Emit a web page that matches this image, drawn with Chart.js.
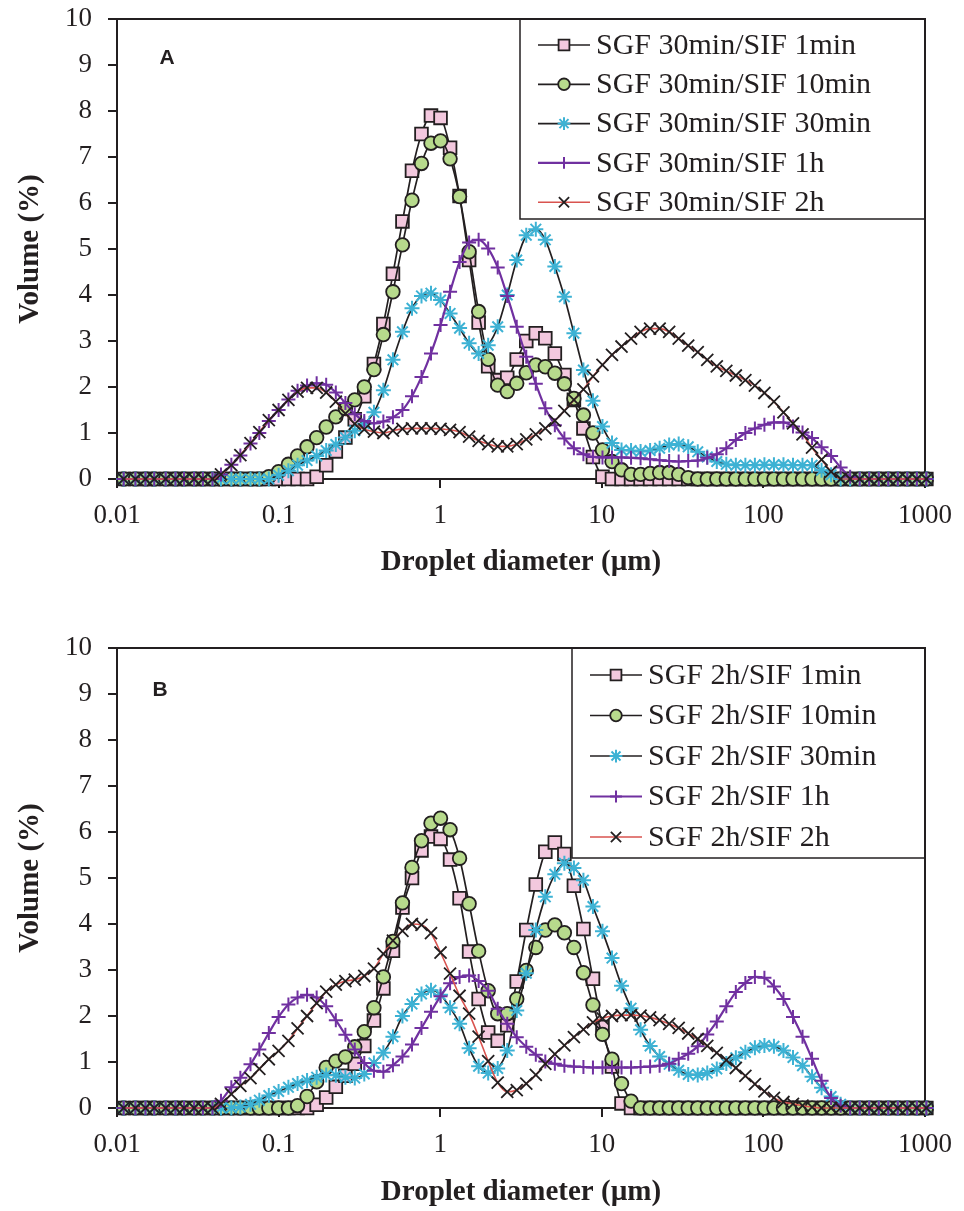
<!DOCTYPE html>
<html>
<head>
<meta charset="utf-8">
<script src="https://cdn.jsdelivr.net/npm/chart.js@4.4.0/dist/chart.umd.min.js"></script>
<style>
  body{margin:0;background:#fff;width:964px;height:1211px;overflow:hidden;position:relative}
  .panel{position:absolute;left:0;width:964px}
  #wrapA{top:-20px;height:620px}
  #wrapB{top:600px;height:611px}
</style>
</head>
<body>
<div class="panel" id="wrapA"><canvas id="chartA" width="964" height="620"></canvas></div>
<div class="panel" id="wrapB"><canvas id="chartB" width="964" height="611"></canvas></div>
<script>
// droplet size classes (um)
var sizes = [0.011,0.013,0.015,0.017,0.020,0.023,0.026,0.030,0.034,0.039,
  0.044,0.051,0.058,0.067,0.076,0.087,0.100,0.115,0.131,0.150,
  0.172,0.197,0.226,0.259,0.296,0.339,0.389,0.445,0.510,0.584,
  0.669,0.766,0.877,1.005,1.151,1.318,1.510,1.729,1.981,2.269,
  2.599,2.976,3.409,3.905,4.472,5.122,5.867,6.720,7.697,8.816,
  10.097,11.565,13.246,15.172,17.377,19.904,22.797,26.111,29.907,34.255,
  39.234,44.938,51.471,58.953,67.523,77.339,88.583,101.46,116.21,133.103,
  152.453,174.616,200.0,229.075,262.376,300.518,344.206,394.244,451.556,517.2,
  592.387,678.504,777.141,890.116,1019.515];

var xTicks = [0.01,0.1,1,10,100,1000];
var xTickLabels = ['0.01','0.1','1','10','100','1000'];

// panel A : SGF 30min
var namesA = ['SGF 30min/SIF 1min','SGF 30min/SIF 10min','SGF 30min/SIF 30min','SGF 30min/SIF 1h','SGF 30min/SIF 2h'];
var a1min = [0,0,0,0,0,0,0,0,0,0, 0,0,0,0,0,0,0,0,0,0,
  0.05,0.3,0.6,0.9,1.3,1.8,2.5,3.37,4.46,5.6,
  6.7,7.5,7.9,7.85,7.2,6.15,4.76,3.4,2.45,2.15,
  2.2,2.6,3.0,3.17,3.06,2.73,2.26,1.72,1.1,0.48,
  0.05,0,0,0,0,0,0,0,0,0, 0,0,0,0,0,0,0,0,0,0,
  0,0,0,0,0,0,0,0,0,0, 0,0,0,0,0];
var a10min = [0,0,0,0,0,0,0,0,0,0, 0,0,0,0,0,0.05,0.16,0.32,0.5,0.7,
  0.9,1.13,1.35,1.53,1.72,2.0,2.38,3.14,4.07,5.09,
  6.06,6.86,7.3,7.35,6.96,6.14,4.94,3.64,2.6,2.04,
  1.9,2.08,2.31,2.48,2.44,2.3,2.07,1.75,1.39,1.0,
  0.63,0.38,0.2,0.1,0.1,0.12,0.14,0.14,0.1,0.03,
  0,0,0,0,0,0,0,0,0,0, 0,0,0,0,0,0,0,0,0,0, 0,0,0,0,0];
var a30min = [0,0,0,0,0,0,0,0,0,0, 0,0,0,0,0,0,0.08,0.18,0.3,0.4,
  0.5,0.62,0.75,0.9,1.05,1.2,1.45,1.93,2.59,3.2,
  3.71,3.98,4.04,3.89,3.6,3.28,2.95,2.73,2.91,3.31,
  4.0,4.76,5.3,5.43,5.2,4.62,3.96,3.17,2.37,1.7,
  1.14,0.78,0.63,0.62,0.6,0.62,0.67,0.74,0.76,0.7,
  0.59,0.48,0.38,0.32,0.3,0.3,0.3,0.31,0.31,0.31,
  0.3,0.3,0.3,0.19,0.09,0,0,0,0,0, 0,0,0,0,0];
var a1h = [0,0,0,0,0,0,0,0,0,0,
  0.1,0.31,0.51,0.77,1.0,1.26,1.5,1.73,1.92,2.03,
  2.08,2.05,1.88,1.65,1.41,1.26,1.21,1.25,1.34,1.5,
  1.8,2.22,2.73,3.35,4.07,4.72,5.14,5.2,5.01,4.6,
  3.98,3.31,2.66,2.07,1.54,1.17,0.88,0.67,0.54,0.48,
  0.47,0.47,0.47,0.46,0.45,0.43,0.41,0.39,0.38,0.39,
  0.4,0.46,0.54,0.67,0.85,1.0,1.1,1.18,1.23,1.23,
  1.14,1.01,0.89,0.69,0.5,0.25,0.05,0,0,0, 0,0,0,0,0];
var a2h = [0,0,0,0,0,0,0,0,0,0,
  0.1,0.3,0.52,0.78,1.02,1.28,1.5,1.72,1.9,1.98,
  1.98,1.88,1.68,1.42,1.2,1.08,1.03,1.0,1.05,1.09,
  1.1,1.1,1.1,1.09,1.07,1.02,0.92,0.83,0.76,0.71,
  0.71,0.76,0.86,0.97,1.1,1.27,1.48,1.72,1.95,2.23,
  2.48,2.7,2.88,3.05,3.2,3.27,3.27,3.2,3.05,2.9,
  2.76,2.59,2.45,2.35,2.25,2.15,2.03,1.87,1.68,1.45,
  1.21,0.97,0.68,0.42,0.16,0,0,0,0,0, 0,0,0,0,0];

// panel B : SGF 2h
var namesB = ['SGF 2h/SIF 1min','SGF 2h/SIF 10min','SGF 2h/SIF 30min','SGF 2h/SIF 1h','SGF 2h/SIF 2h'];
var b1min = [0,0,0,0,0,0,0,0,0,0, 0,0,0,0,0,0,0,0,0,0,
  0.07,0.23,0.46,0.7,0.96,1.35,1.9,2.6,3.42,4.36,
  5.0,5.6,5.9,5.85,5.4,4.56,3.4,2.37,1.64,1.46,
  1.8,2.75,3.87,4.86,5.57,5.77,5.52,4.83,3.89,2.81,
  1.76,0.9,0.1,0,0,0,0,0,0,0, 0,0,0,0,0,0,0,0,0,0,
  0,0,0,0,0,0,0,0,0,0, 0,0,0,0,0];
var b10min = [0,0,0,0,0,0,0,0,0,0, 0,0,0,0,0,0,0,0,0.05,0.25,
  0.57,0.88,1.02,1.11,1.33,1.66,2.18,2.85,3.62,4.46,
  5.23,5.81,6.19,6.3,6.05,5.43,4.44,3.41,2.55,2.05,
  2.05,2.37,2.99,3.49,3.87,3.98,3.81,3.49,2.94,2.24,
  1.6,1.06,0.53,0.15,0,0,0,0,0,0, 0,0,0,0,0,0,0,0,0,0,
  0,0,0,0,0,0,0,0,0,0, 0,0,0,0,0];
var b30min = [0,0,0,0,0,0,0,0,0,0, 0,0,0.02,0.08,0.17,0.27,0.36,0.45,0.53,0.6,
  0.67,0.72,0.71,0.67,0.65,0.74,0.98,1.2,1.55,2.0,
  2.26,2.48,2.56,2.46,2.18,1.83,1.3,0.91,0.76,0.86,
  1.25,2.12,2.93,3.87,4.59,5.08,5.32,5.22,4.95,4.38,
  3.84,3.26,2.66,2.17,1.7,1.35,1.12,0.95,0.82,0.73,
  0.72,0.76,0.85,0.97,1.09,1.21,1.31,1.36,1.34,1.25,
  1.1,0.92,0.68,0.44,0.25,0.08,0,0,0,0, 0,0,0,0,0];
var b1h = [0,0,0,0,0,0,0,0,0,0,
  0.16,0.45,0.66,0.95,1.27,1.63,1.98,2.25,2.4,2.46,
  2.4,2.21,1.91,1.59,1.27,0.98,0.81,0.79,0.93,1.12,
  1.38,1.74,2.09,2.43,2.71,2.85,2.88,2.76,2.55,2.16,
  1.83,1.54,1.33,1.16,1.01,0.96,0.92,0.9,0.89,0.88,
  0.88,0.88,0.88,0.88,0.89,0.9,0.92,0.96,1.07,1.18,
  1.34,1.6,1.88,2.21,2.52,2.72,2.85,2.83,2.64,2.37,
  1.98,1.55,1.07,0.59,0.22,0.05,0,0,0,0, 0,0,0,0,0];
var b2h = [0,0,0,0,0,0,0,0,0,0,
  0.09,0.3,0.48,0.65,0.85,1.06,1.24,1.46,1.73,2.0,
  2.28,2.53,2.68,2.76,2.79,2.87,3.03,3.35,3.64,3.85,
  4.0,3.98,3.8,3.38,2.92,2.44,2.05,1.55,1.02,0.55,
  0.35,0.39,0.53,0.72,0.96,1.17,1.36,1.54,1.71,1.86,
  1.95,2.0,2.02,2.02,2.01,1.97,1.91,1.83,1.74,1.62,
  1.5,1.35,1.2,1.04,0.87,0.7,0.52,0.36,0.22,0.13,
  0.09,0.05,0.02,0,0,0,0,0,0,0, 0,0,0,0,0];

var ink = '#231f20';

function pairs(vals){
  return sizes.map(function(x, i){ return {x: x, y: vals[i]}; });
}

// five series share the same look in both panels
function makeSets(names, v1, v2, v3, v4, v5){
  return [
    {label: names[0], data: pairs(v1), borderColor: ink, borderWidth: 1.7,
     pointStyle: 'rect', pointRadius: 9, pointBackgroundColor: '#f3c8de',
     pointBorderColor: ink, pointBorderWidth: 1.8, order: 5},
    {label: names[1], data: pairs(v2), borderColor: ink, borderWidth: 1.7,
     pointStyle: 'circle', pointRadius: 6.8, pointBackgroundColor: '#b7da8c',
     pointBorderColor: ink, pointBorderWidth: 1.8, order: 4},
    {label: names[2], data: pairs(v3), borderColor: ink, borderWidth: 1.7,
     pointStyle: 'star', pointRadius: 7.5, pointBackgroundColor: '#3db2d4',
     pointBorderColor: '#3db2d4', pointBorderWidth: 2, order: 3},
    {label: names[3], data: pairs(v4), borderColor: '#7030a0', borderWidth: 2.2,
     pointStyle: 'cross', pointRadius: 7, pointBackgroundColor: '#7030a0',
     pointBorderColor: '#7030a0', pointBorderWidth: 2, order: 2},
    {label: names[4], data: pairs(v5), borderColor: '#d9534f', borderWidth: 1.6,
     pointStyle: 'crossRot', pointRadius: 8.5, pointBackgroundColor: ink,
     pointBorderColor: ink, pointBorderWidth: 1.8, order: 1}
  ];
}

function boxLegend(box){
  return {
    id: 'boxLegend',
    beforeDatasetsDraw: function(chart){
      var ctx = chart.ctx;
      var area = chart.chartArea;
      ctx.save();
      // frame (top and right side of the plot)
      ctx.strokeStyle = ink;
      ctx.lineWidth = 2;
      ctx.beginPath();
      ctx.moveTo(area.left, area.top);
      ctx.lineTo(area.right, area.top);
      ctx.lineTo(area.right, area.bottom);
      ctx.stroke();

      ctx.lineWidth = 1.5;
      ctx.strokeRect(box.x, area.top, area.right - box.x, box.h);

      var sets = chart.data.datasets;
      for (var i = 0; i < sets.length; i++){
        var ds = sets[i];
        var y = area.top + box.first + i * box.step;
        ctx.strokeStyle = ds.borderColor;
        ctx.lineWidth = ds.borderWidth;
        ctx.beginPath();
        ctx.moveTo(box.x + 18, y);
        ctx.lineTo(box.x + 70, y);
        ctx.stroke();
        ctx.fillStyle = ds.pointBackgroundColor;
        ctx.strokeStyle = ds.pointBorderColor;
        ctx.lineWidth = ds.pointBorderWidth;
        Chart.helpers.drawPoint(ctx, {pointStyle: ds.pointStyle, radius: ds.pointRadius * 0.85,
          borderWidth: ds.pointBorderWidth, rotation: 0}, box.x + 44, y);
        ctx.fillStyle = ink;
        ctx.font = '30px "Liberation Serif", "Times New Roman", serif';
        ctx.textAlign = 'left';
        ctx.textBaseline = 'middle';
        ctx.fillText(ds.label, box.x + 76, y + 1);
      }

      ctx.font = 'bold 21px "Liberation Sans", Arial, sans-serif';
      ctx.fillStyle = ink;
      ctx.textAlign = 'center';
      ctx.textBaseline = 'middle';
      ctx.fillText(box.letter, box.lx, area.top + box.ly);
      ctx.restore();
    }
  };
}

function makeChart(id, sets, padTop, axisH, titlePad, box){
  var serif = '"Liberation Serif", "Times New Roman", serif';
  return new Chart(document.getElementById(id), {
    type: 'line',
    data: {datasets: sets},
    options: {
      responsive: false,
      animation: false,
      devicePixelRatio: 1,
      layout: {padding: {top: padTop, right: 38, left: 0, bottom: 0}},
      elements: {line: {cubicInterpolationMode: 'monotone', fill: false}},
      datasets: {line: {clip: false}},
      plugins: {legend: {display: false}, tooltip: {enabled: false}},
      scales: {
        x: {
          type: 'logarithmic', min: 0.01, max: 1000,
          afterBuildTicks: function(scale){
            scale.ticks = xTicks.map(function(v){ return {value: v}; });
          },
          afterFit: function(scale){ scale.height = axisH; },
          ticks: {
            color: ink, padding: 12, maxRotation: 0, autoSkip: false,
            font: {family: serif, size: 27},
            callback: function(value){
              var k = xTicks.indexOf(value);
              return k < 0 ? '' : xTickLabels[k];
            }
          },
          grid: {drawOnChartArea: false, drawTicks: true, tickLength: 9, color: ink, lineWidth: 2},
          border: {display: true, color: ink, width: 2},
          title: {display: true, text: 'Droplet diameter (\u00b5m)', color: ink,
            font: {family: serif, size: 29, weight: 'bold'},
            padding: {top: 0, bottom: titlePad}}
        },
        y: {
          min: 0, max: 10,
          afterFit: function(scale){ scale.width = 117; },
          ticks: {stepSize: 1, color: ink, padding: 16, font: {family: serif, size: 27}},
          grid: {drawOnChartArea: false, drawTicks: true, tickLength: 9, color: ink, lineWidth: 2},
          border: {display: true, color: ink, width: 2},
          title: {display: true, text: 'Volume (%)', color: ink,
            font: {family: serif, size: 29, weight: 'bold'},
            padding: {top: 13, bottom: 0}}
        }
      }
    },
    plugins: [boxLegend(box)]
  });
}

var chartA = makeChart('chartA', makeSets(namesA, a1min, a10min, a30min, a1h, a2h),
  39, 121, 20, {x: 520, h: 200, first: 26, step: 39.3, letter: 'A', lx: 167, ly: 39});
var chartB = makeChart('chartB', makeSets(namesB, b1min, b10min, b30min, b1h, b2h),
  48, 103, 1, {x: 572, h: 210, first: 27, step: 40.5, letter: 'B', lx: 160, ly: 42});
</script>
</body>
</html>
